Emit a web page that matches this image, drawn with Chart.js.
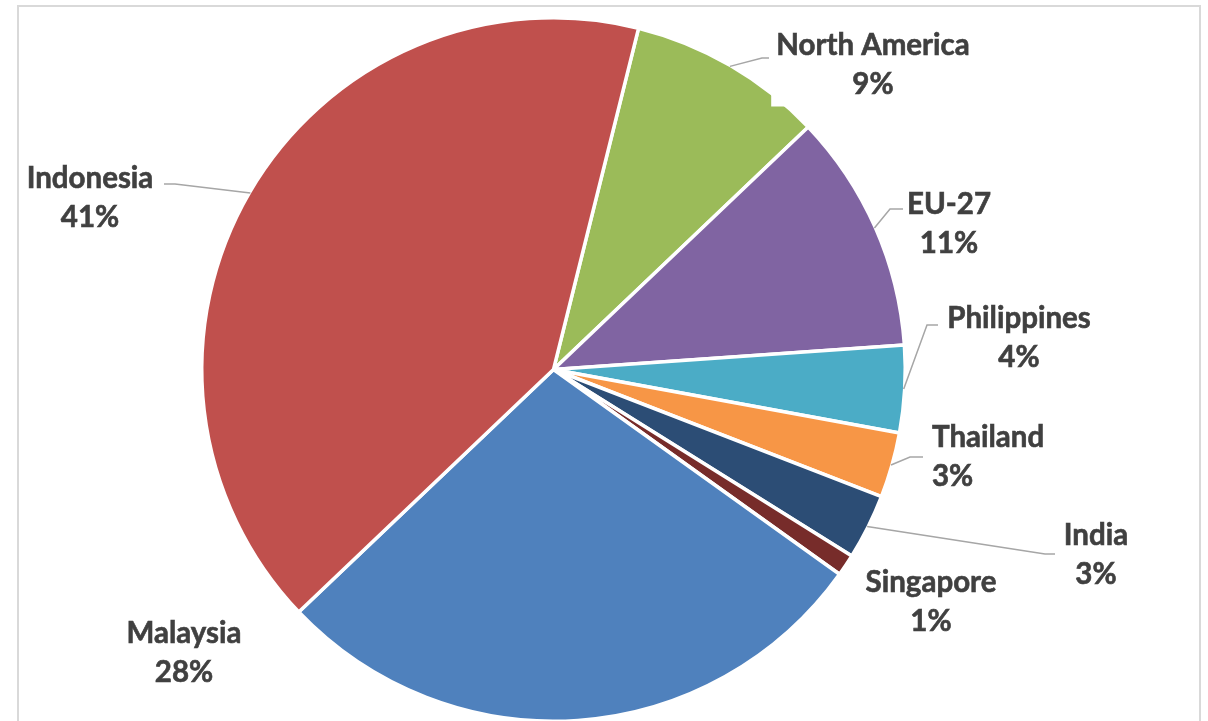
<!DOCTYPE html>
<html>
<head>
<meta charset="utf-8">
<script src="https://cdn.jsdelivr.net/npm/chart.js@4.4.0/dist/chart.umd.min.js"></script>
<style>
  html, body { margin: 0; padding: 0; background: #fff; overflow: hidden; }
  #wrap { width: 1208px; height: 721px; overflow: hidden; }
</style>
</head>
<body>
<div id="wrap"><canvas id="myChart" width="1208" height="740"></canvas></div>
<script>
// PIE CHART - share by country/region

const regions = ['North America', 'EU-27', 'Philippines', 'Thailand', 'India', 'Singapore', 'Malaysia', 'Indonesia'];
const shares = [9, 11, 4, 3, 3, 1, 28, 41];
const sliceColors = ['#9BBB59', '#8064A2', '#4BACC6', '#F79646', '#2C4D75', '#772C2A', '#4F81BD', '#C0504D'];

// where each label block sits (x = anchor, y = baseline of first line) and its leader line elbow/end
const labelSpots = [
    { x: 873, y: 55, align: 'center', elbow: [762, 58], end: [769, 58] },
    { x: 949, y: 214, align: 'center', elbow: [890, 209], end: [903, 209] },
    { x: 1019, y: 328, align: 'center', elbow: [927, 325], end: [938, 325] },
    { x: 932, y: 447, align: 'left', elbow: [910, 457], end: [923, 457] },
    { x: 1096, y: 545, align: 'center', elbow: [1045, 554], end: [1055, 554] },
    { x: 931, y: 592, align: 'center' },
    { x: 184, y: 643, align: 'center' },
    { x: 90, y: 188, align: 'center', elbow: [175, 184], end: [164, 184] }
];

const labelFont = 'bold 29.5px Lato, "Open Sans", sans-serif';
const lineGap = 38.5;

// outer labels with leader lines + the thin frame round the chart
const outsideLabels = {
    id: 'outsideLabels',
    afterDatasetsDraw(chart) {
        const ctx = chart.ctx;
        const arcs = chart.getDatasetMeta(0).data;
        ctx.save();

        // frame
        ctx.strokeStyle = '#d9d9d9';
        ctx.lineWidth = 2;
        ctx.beginPath();
        ctx.moveTo(18, 760);
        ctx.lineTo(18, 6);
        ctx.lineTo(1200, 6);
        ctx.lineTo(1200, 760);
        ctx.stroke();

        ctx.font = labelFont;
        arcs.forEach((arc, i) => {
            const spot = labelSpots[i];
            const line1 = regions[i];
            const line2 = shares[i] + '%';
            const w = Math.max(ctx.measureText(line1).width, ctx.measureText(line2).width);
            let left = spot.align === 'left' ? spot.x : spot.x - w / 2;

            // white label box (cuts into the slice where it overlaps)
            ctx.fillStyle = '#fff';
            ctx.fillRect(left - 5, spot.y - 27, w + 10, lineGap + 40);

            // leader line from the middle of the slice edge
            if (spot.elbow) {
                const mid = (arc.startAngle + arc.endAngle) / 2;
                const r = arc.outerRadius - 1;
                ctx.strokeStyle = '#a6a6a6';
                ctx.lineWidth = 1.5;
                ctx.beginPath();
                ctx.moveTo(arc.x + Math.cos(mid) * r, arc.y + Math.sin(mid) * r);
                ctx.lineTo(spot.elbow[0], spot.elbow[1]);
                ctx.lineTo(spot.end[0], spot.end[1]);
                ctx.stroke();
            }

            ctx.fillStyle = '#404040';
            ctx.strokeStyle = '#404040';
            ctx.lineWidth = 0.6;
            ctx.textBaseline = 'alphabetic';
            ctx.textAlign = spot.align;
            ctx.fillText(line1, spot.x, spot.y);
            ctx.strokeText(line1, spot.x, spot.y);
            ctx.fillText(line2, spot.x, spot.y + lineGap);
            ctx.strokeText(line2, spot.x, spot.y + lineGap);
        });
        ctx.restore();
    }
};

var ctx = document.getElementById('myChart').getContext('2d');

var myChart = new Chart(ctx, {
    type: 'pie',
    data: {
        labels: regions,
        datasets: [{
            data: shares,
            backgroundColor: sliceColors,
            borderColor: '#ffffff',
            borderWidth: 3.5
        }]
    },
    options: {
        responsive: false,
        animation: false,
        rotation: 14,
        plugins: {
            legend: { display: false },
            tooltip: { enabled: false }
        },
        layout: {
            padding: { left: 200, top: 16, right: 301, bottom: 17 }
        }
    },
    plugins: [outsideLabels]
});
</script>
</body>
</html>
